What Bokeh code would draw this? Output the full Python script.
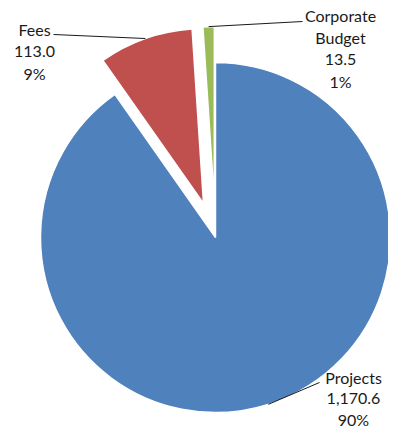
import math
from bokeh.plotting import figure
from bokeh.models import Range1d
from bokeh.core.properties import value
from bokeh.embed import file_html
from bokeh.resources import INLINE

# ---- data ----
categories = ["Projects", "Fees", "Corporate Budget"]
amounts = [1170.6, 113.0, 13.5]
colors = ["#4F81BD", "#C0504D", "#9BBB59"]

# ---- layout / style ----
W, H = 388, 432
center = (215, 448 - 237)
radius = 175
explode = [0, 36, 36]
label_lines_pos = [(353, 377), (34, 29), (340, 15)]   # picture px of first line
leader_end = [(319, 382), (53, 34), (302, 21)]        # picture px
line_h = [21, 22, 22]
font = value("Lato")

p = figure(width=W, height=H, output_backend="svg", toolbar_location=None,
           x_range=Range1d(0, W), y_range=Range1d(448 - H, 448),
           min_border=0)
p.axis.visible = False
p.grid.visible = False
p.outline_line_color = None
p.background_fill_color = "white"

total = sum(amounts)
theta0 = 0.0
for i, (cat, amt, col) in enumerate(zip(categories, amounts, colors)):
    frac = amt / total
    t_start = theta0
    t_end = theta0 + frac * 2 * math.pi
    theta0 = t_end
    t_mid = (t_start + t_end) / 2
    # clockwise-from-top -> bokeh anticlockwise-from-x
    dx, dy = math.sin(t_mid), math.cos(t_mid)
    vx = center[0] + explode[i] * dx
    vy = center[1] + explode[i] * dy
    p.wedge(x=[vx], y=[vy], radius=radius,
            start_angle=[math.pi / 2 - t_end], end_angle=[math.pi / 2 - t_start],
            fill_color=col, line_color="white", line_width=1.5)
    # leader line
    ax = vx + radius * dx
    ay = vy + radius * dy
    ex, ey = leader_end[i]
    p.line(x=[ax, ex], y=[ay, 448 - ey], line_color="#1a1a1a", line_width=1)
    # label text
    name_lines = cat.split(" ")
    val_txt = f"{amt:,.1f}"
    pct_txt = f"{round(frac * 100):d}%"
    lines = name_lines + [val_txt, pct_txt]
    lx, ly = label_lines_pos[i]
    p.text(x=[lx] * len(lines), y=[448 - (ly + k * line_h[i]) for k in range(len(lines))],
           text=lines, text_align="center", text_baseline="middle",
           text_font=font, text_font_size="16px", text_color="#1a1a1a")

open("out.html", "w").write(file_html(p, INLINE))
